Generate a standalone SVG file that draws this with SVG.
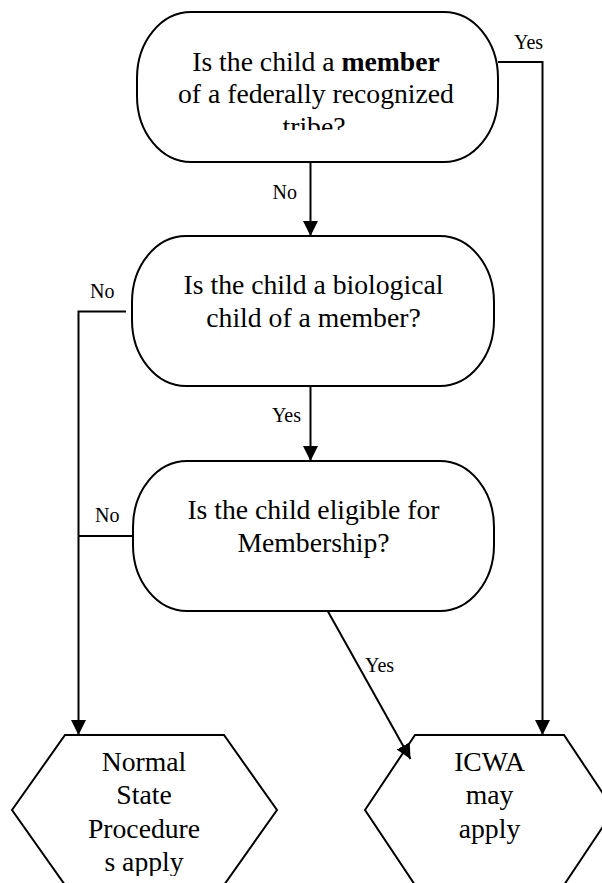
<svg xmlns="http://www.w3.org/2000/svg" width="602" height="883" viewBox="0 0 602 883">
<style>
.shape{fill:#fff;stroke:#000;stroke-width:2}
.conn{fill:none;stroke:#000;stroke-width:2}
.t{font-size:27.7px;fill:#000;text-anchor:middle}
.lbl{font-size:20px;fill:#000}
</style>
<defs>
<marker id="arr" markerUnits="userSpaceOnUse" markerWidth="15" markerHeight="15" refX="15" refY="7.5" orient="auto">
<path d="M0,0 L15,7.5 L0,15 z" fill="#000"/>
</marker>
<clipPath id="clip1"><rect x="130" y="0" width="380" height="130"/></clipPath>
<clipPath id="clip4"><rect x="0" y="700" width="300" height="176"/></clipPath>
</defs>

<g font-family="'Liberation Serif', 'DejaVu Serif', serif">
<g id="n1">
<rect class="shape" x="137" y="12" width="361" height="150" rx="54" ry="66"/>
<g clip-path="url(#clip1)">
<text class="t" x="316" y="71">Is the child a <tspan font-weight="bold">member</tspan></text>
<text class="t" x="316" y="103">of a federally recognized</text>
<text class="t" x="314" y="136">tribe?</text>
</g>
</g>

<g id="n2">
<rect class="shape" x="132" y="236" width="362" height="150" rx="54" ry="66"/>
<text class="t" x="313.5" y="293.5">Is the child a biological</text>
<text class="t" x="313.5" y="326.5">child of a member?</text>
</g>

<g id="n3">
<rect class="shape" x="133" y="461" width="361" height="150" rx="54" ry="66"/>
<text class="t" x="313.5" y="519">Is the child eligible for</text>
<text class="t" x="313.5" y="552">Membership?</text>
</g>

<g id="n4">
<polygon class="shape" points="12,810 65,735 224,735 277,810 224,885 65,885"/>
<g clip-path="url(#clip4)">
<text class="t" x="144" y="771">Normal</text>
<text class="t" x="144" y="804">State</text>
<text class="t" x="144" y="837.5">Procedure</text>
<text class="t" x="144" y="871">s apply</text>
</g>
</g>

<g id="n5">
<polygon class="shape" points="365,810 415,735 564,735 614,810 564,885 415,885"/>
<text class="t" x="489.5" y="771">ICWA</text>
<text class="t" x="489.5" y="804">may</text>
<text class="t" x="489.5" y="837.5">apply</text>
</g>

<g id="connectors">
<polyline class="conn" points="498,62 542.5,62 542.5,735" marker-end="url(#arr)"/>
<line class="conn" x1="310.5" y1="162" x2="310.5" y2="236" marker-end="url(#arr)"/>
<polyline class="conn" points="126,311.5 78.5,311.5 78.5,735" marker-end="url(#arr)"/>
<line class="conn" x1="310.5" y1="386" x2="310.5" y2="461" marker-end="url(#arr)"/>
<line class="conn" x1="133" y1="536" x2="78.5" y2="536"/>
<line class="conn" x1="327.7" y1="611" x2="410.5" y2="759" marker-end="url(#arr)"/>
<text class="lbl" x="514" y="49">Yes</text>
<text class="lbl" x="297" y="199" text-anchor="end">No</text>
<text class="lbl" x="90" y="298">No</text>
<text class="lbl" x="301" y="422" text-anchor="end">Yes</text>
<text class="lbl" x="95" y="521.5">No</text>
<text class="lbl" x="365" y="672">Yes</text>
</g>
</g>
</svg>
